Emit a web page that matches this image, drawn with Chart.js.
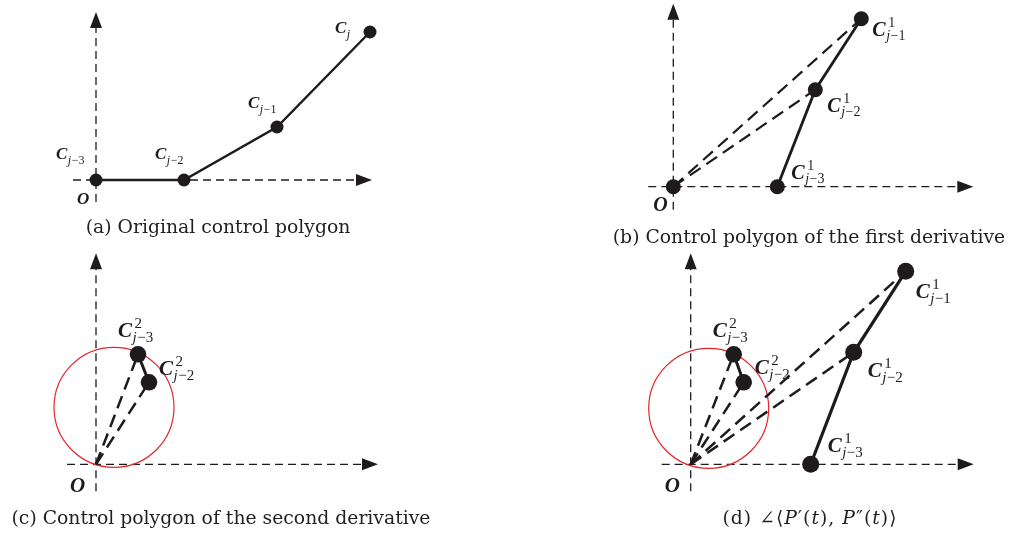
<!DOCTYPE html>
<html>
<head>
<meta charset="utf-8">
<script src="https://cdn.jsdelivr.net/npm/chart.js@4.4.1/dist/chart.umd.min.js"></script>
<style>
  html, body { margin: 0; padding: 0; background: #fff; }
  #wrap { position: relative; width: 1010px; height: 535px; overflow: hidden; }
  #wrap canvas { position: absolute; }
  .cap { position: absolute; font-family: "DejaVu Serif", serif; font-size: 18.8px; color: #231f20;
         white-space: nowrap; line-height: 1; transform: translateX(-50%); }
  .cap i { font-style: italic; }
</style>
</head>
<body>
<div id="wrap">
  <canvas id="pa" width="505" height="250" style="left:0;top:0"></canvas>
  <canvas id="pb" width="505" height="250" style="left:505px;top:0"></canvas>
  <canvas id="pc" width="505" height="285" style="left:0;top:250px"></canvas>
  <canvas id="pd" width="505" height="285" style="left:505px;top:250px"></canvas>
  <div class="cap" style="left:218px;top:218px">(a) Original control polygon</div>
  <div class="cap" style="left:809px;top:228px">(b) Control polygon of the first derivative</div>
  <div class="cap" style="left:221px;top:509px">(c) Control polygon of the second derivative</div>
  <div class="cap" style="left:810px;top:509px;letter-spacing:1px">(d) ∠⟨<i>P</i>′(<i>t</i>), <i>P</i>″(<i>t</i>)⟩</div>
</div>
<script>
// ---- control points (one unit = one grid step of the drawing) ----
// (a) original control polygon C_{j-3} .. C_j
const origNames = ['j−3', 'j−2', 'j−1', 'j'];
const origX = [0, 8.8, 18.1, 27.4];
const origY = [0, 0, 5.3, 14.8];

// (b) first-derivative control polygon C^1_{j-3} .. C^1_{j-1}
const d1Names = ['j−3', 'j−2', 'j−1'];
const d1X = [10.4, 14.2, 18.8];
const d1Y = [0, 9.7, 16.8];

// (c) second-derivative control polygon C^2_{j-3}, C^2_{j-2}
const d2Names = ['j−3', 'j−2'];
const d2X = [4.2, 5.3];
const d2Y = [11.0, 8.2];
const d2Circle = [1.8, 5.7, 6.0];          // centre x, centre y, radius

// (d) both derivative polygons together
const dd1X = [12.0, 16.3, 21.5];
const dd1Y = [0, 11.2, 19.3];
const dd2X = [4.3, 5.3];
const dd2Y = [11.0, 8.2];
const ddCircle = [1.8, 5.6, 6.0];

const INK = '#1f1b1c';
const RED = '#e2262c';
const SERIF = '"Liberation Serif", "DejaVu Serif", serif';

const pts = (xs, ys) => xs.map((x, i) => ({ x: x, y: ys[i] }));

function polygon(xs, ys, r, w) {
  return { data: pts(xs, ys), showLine: true, borderColor: INK, borderWidth: w,
           pointRadius: r, pointHoverRadius: r, pointBackgroundColor: INK, pointBorderWidth: 0 };
}
function ray(x, y, w) {
  return { data: [{ x: 0, y: 0 }, { x: x, y: y }], showLine: true, borderColor: INK, borderWidth: w,
           borderDash: [13, 7], pointRadius: 0, borderCapStyle: 'butt' };
}
function rays(xs, ys, w) { return xs.map((x, i) => ray(x, ys[i], w)); }

// arrowhead with its tip at (x, y) pointing along (ux, uy)
function arrow(ctx, x, y, ux, uy) {
  const L = 16, H = 6;
  ctx.beginPath();
  ctx.moveTo(x, y);
  ctx.lineTo(x - ux * L - uy * H, y - uy * L + ux * H);
  ctx.lineTo(x - ux * L + uy * H, y - uy * L - ux * H);
  ctx.closePath();
  ctx.fill();
}

// "C" with a superscript order and an italic-j subscript
function drawLabel(ctx, x, y, sub, sup, big, small) {
  ctx.textAlign = 'left';
  ctx.textBaseline = 'alphabetic';
  ctx.fillStyle = INK;
  ctx.font = 'italic bold ' + big + 'px ' + SERIF;
  ctx.fillText('C', x, y);
  const sx = x + ctx.measureText('C').width + 0.5;
  if (sup) {
    ctx.font = small + 'px ' + SERIF;
    ctx.fillText(sup, sx + 2, y - big * 0.45);
  }
  const sy = y + big * (sup ? 0.22 : 0.3);
  ctx.font = 'italic ' + small + 'px ' + SERIF;
  ctx.fillText('j', sx, sy);
  const jw = ctx.measureText('j').width;
  const rest = sub.slice(1);
  if (rest) {
    ctx.font = small + 'px ' + SERIF;
    ctx.fillText(rest, sx + jw + 0.5, sy);
  }
}

const figure = {
  id: 'figure',
  beforeDatasetsDraw(chart, args, o) {
    const ctx = chart.ctx, xs = chart.scales.x, ys = chart.scales.y;
    const ox = xs.getPixelForValue(0), oy = ys.getPixelForValue(0);
    ctx.save();
    ctx.strokeStyle = INK; ctx.fillStyle = INK;
    ctx.lineWidth = 1.3; ctx.setLineDash([8, 5]);
    const xa = xs.getPixelForValue(o.axisX[0]), xb = xs.getPixelForValue(o.axisX[1]);
    const ya = ys.getPixelForValue(o.axisY[0]), yb = ys.getPixelForValue(o.axisY[1]);
    ctx.beginPath(); ctx.moveTo(xa, oy); ctx.lineTo(xb - 15, oy); ctx.stroke();
    ctx.beginPath(); ctx.moveTo(ox, ya); ctx.lineTo(ox, yb + 15); ctx.stroke();
    ctx.setLineDash([]);
    arrow(ctx, xb, oy, 1, 0);
    arrow(ctx, ox, yb, 0, -1);
    if (o.circle) {
      const cx = xs.getPixelForValue(o.circle[0]), cy = ys.getPixelForValue(o.circle[1]);
      const r = xs.getPixelForValue(o.circle[2]) - xs.getPixelForValue(0);
      ctx.strokeStyle = RED; ctx.lineWidth = 1.2;
      ctx.beginPath(); ctx.arc(cx, cy, r, 0, Math.PI * 2); ctx.stroke();
    }
    ctx.restore();
  },
  afterDatasetsDraw(chart, args, o) {
    const ctx = chart.ctx, xs = chart.scales.x, ys = chart.scales.y;
    ctx.save();
    for (const l of o.labels) {
      const px = xs.getPixelForValue(l.x) + l.dx, py = ys.getPixelForValue(l.y) + l.dy;
      drawLabel(ctx, px, py, l.sub, l.sup, o.big, o.small);
    }
    ctx.fillStyle = INK;
    ctx.font = 'italic bold ' + o.big + 'px ' + SERIF;
    ctx.textAlign = 'left'; ctx.textBaseline = 'alphabetic';
    ctx.fillText('O', xs.getPixelForValue(0) + o.origin[0], ys.getPixelForValue(0) + o.origin[1]);
    ctx.restore();
  }
};

function labelsFor(names, xs, ys, sup, offs) {
  return names.map((n, i) => ({ x: xs[i], y: ys[i], sub: n, sup: sup, dx: offs[i][0], dy: offs[i][1] }));
}

function makeChart(id, xr, yr, datasets, fig) {
  return new Chart(document.getElementById(id), {
    type: 'scatter',
    data: { datasets: datasets },
    plugins: [figure],
    options: {
      responsive: false, animation: false, devicePixelRatio: 1,
      layout: { padding: 0, autoPadding: false },
      events: [],
      scales: {
        x: { type: 'linear', display: false, min: xr[0], max: xr[1] },
        y: { type: 'linear', display: false, min: yr[0], max: yr[1] }
      },
      plugins: { legend: { display: false }, tooltip: { enabled: false }, figure: fig }
    }
  });
}

// (a)
makeChart('pa', [-9.6, 40.9], [-7.0, 18.0],
  [polygon(origX, origY, 6.5, 2.4)],
  { axisX: [-2.3, 27.6], axisY: [-2.2, 16.8], big: 17, small: 12, origin: [-19, 24],
    labels: labelsFor(origNames, origX, origY, null, [[-40, -21], [-29, -21], [-29, -19], [-35, 1]]) });

// (b)
makeChart('pb', [-16.83, 33.67], [-6.33, 18.67],
  [polygon(d1X, d1Y, 7.5, 2.8), polygon([0], [0], 7.5, 0)].concat(rays(d1X.slice(1), d1Y.slice(1), 2.2)),
  { axisX: [-2.5, 30.0], axisY: [-2.3, 18.3], big: 20, small: 14, origin: [-20, 24],
    labels: labelsFor(d1Names, d1X, d1Y, '1', [[14, -8], [12, 22], [11, 17]]) });

// (c)
makeChart('pc', [-9.6, 40.9], [-7.07, 21.43],
  [polygon(d2X, d2Y, 8.3, 3)].concat(rays(d2X, d2Y, 2.5)),
  { axisX: [-2.9, 28.2], axisY: [-2.7, 21.1], big: 21, small: 15, origin: [-26, 28], circle: d2Circle,
    labels: labelsFor(d2Names, d2X, d2Y, '2', [[-20, -17], [10, -7]]) });

// (d)
makeChart('pd', [-18.57, 31.93], [-7.07, 21.43],
  [polygon(dd1X, dd1Y, 8.5, 3.2), polygon(dd2X, dd2Y, 8.3, 3)]
    .concat(rays(dd1X.slice(1), dd1Y.slice(1), 2.5), rays(dd2X, dd2Y, 2.5)),
  { axisX: [-2.9, 28.3], axisY: [-2.7, 21.1], big: 21, small: 15, origin: [-26, 28], circle: ddCircle,
    labels: labelsFor(d1Names, dd1X, dd1Y, '1', [[17, -12], [14, 25], [10, 27]])
      .concat(labelsFor(d2Names, dd2X, dd2Y, '2', [[-21, -17], [11, -8]])) });
</script>
</body>
</html>
